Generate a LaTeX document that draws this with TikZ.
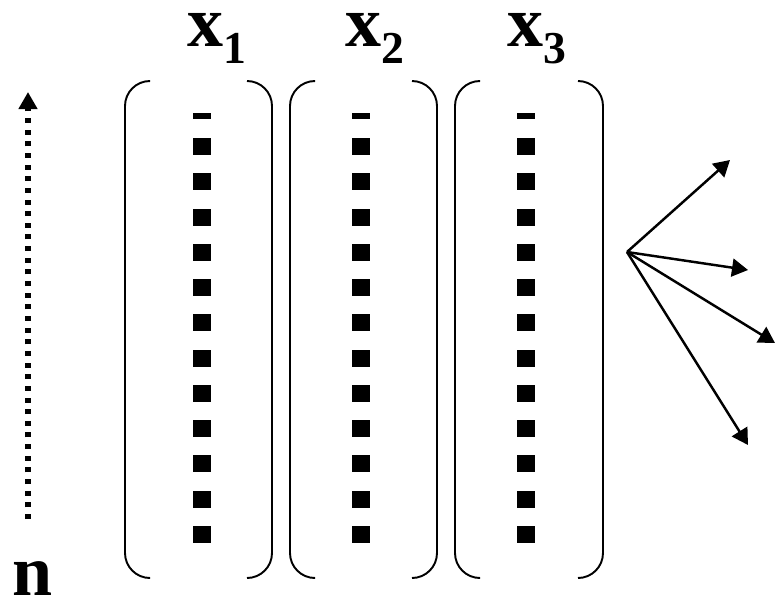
\documentclass[tikz,border=0pt]{standalone}
\usepackage{fontspec}
\setmainfont{Liberation Serif}
\usetikzlibrary{arrows.meta}
\usetikzlibrary{positioning}

\newcommand{\colname}[1]{x\raisebox{-0.34cm}{\fontsize{26}{26}\selectfont #1}}

\begin{document}
\begin{tikzpicture}[x=0.02cm, y=-0.02cm,
    lab/.style={font=\fontsize{41}{41}\selectfont\bfseries, inner sep=0pt, anchor=base west, text height=0.64cm},
    bracket/.style={line width=1.1pt, rounded corners=0.5cm},
    ray/.style={line width=1.4pt, -{Triangle[length=0.32cm, width=0.36cm]}},
    dots/.style={line width=0.11cm, dash pattern=on 0.1cm off 0.133cm, -{Triangle[length=0.34cm, width=0.36cm]}}]
    \useasboundingbox (0,0) rectangle (775,599);

    % column labels
    \node[lab] (x1) at (187,46) {\colname{1}};
    \node[lab] (x2) at (345,46) {\colname{2}};
    \node[lab] (x3) at (507,46) {\colname{3}};
    \node[lab] (n) at (12,595) {n};

    % round brackets around each column
    \foreach \l/\r in {125/272, 290/437, 455/603} {
        \draw[bracket] (\l+25,81) -- (\l,81) -- (\l,578) -- (\l+25,578);
        \draw[bracket] (\r-25,81) -- (\r,81) -- (\r,578) -- (\r-25,578);
    }

    % entries of the columns
    \foreach \c in {202, 361, 526} {
        \fill (\c-9,113) rectangle (\c+9,119);
        \foreach \k in {0,...,11}
            \fill (\c-9,138+35.27*\k) rectangle (\c+9,155+35.27*\k);
    }

    % index direction
    \coordinate (nlow) at (28,519);
    \coordinate (nhigh) at (28,92);
    \draw[dots] (nlow) -- (nhigh);

    % fan of arrows
    \coordinate (src) at (627,252);
    \coordinate (f1) at (730,160);
    \coordinate (f2) at (748,270);
    \coordinate (f3) at (775,343);
    \coordinate (f4) at (748,445);
    \foreach \t in {f1,f2,f3,f4}
        \draw[ray] (src) -- (\t);
\end{tikzpicture}
\end{document}
